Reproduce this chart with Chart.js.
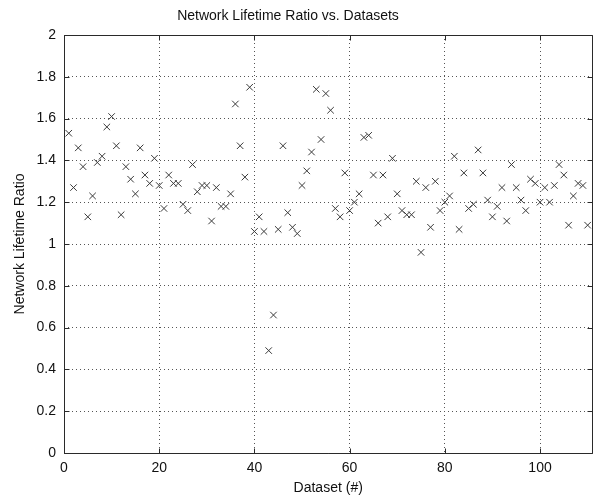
<!DOCTYPE html>
<html>
<head>
<meta charset="utf-8">
<script src="https://cdn.jsdelivr.net/npm/chart.js@4/dist/chart.umd.min.js"></script>
<style>
  html, body { margin: 0; padding: 0; background: #fff; overflow: hidden; }
  #wrap { width: 598px; height: 499px; }
</style>
</head>
<body>
<div id="wrap"><canvas id="c" width="598" height="499"></canvas></div>
<script>
// ---- Data ----
const titleText = "Network Lifetime Ratio vs. Datasets";
const xTitle = "Dataset (#)";
const yTitle = "Network Lifetime Ratio";

const datasetIds = [
  1, 2, 3, 4, 5, 6, 7, 8, 9, 10,
  11, 12, 13, 14, 15, 16, 17, 18, 19, 20,
  21, 22, 23, 24, 25, 26, 27, 28, 29, 30,
  31, 32, 33, 34, 35, 36, 37, 38, 39, 40,
  41, 42, 43, 44, 45, 46, 47, 48, 49, 50,
  51, 52, 53, 54, 55, 56, 57, 58, 59, 60,
  61, 62, 63, 64, 65, 66, 67, 68, 69, 70,
  71, 72, 73, 74, 75, 76, 77, 78, 79, 80,
  81, 82, 83, 84, 85, 86, 87, 88, 89, 90,
  91, 92, 93, 94, 95, 96, 97, 98, 99, 100,
  101, 102, 103, 104, 105, 106, 107, 108, 109, 110
];

const lifetimeRatio = [
  1.53, 1.27, 1.46, 1.37, 1.13, 1.23, 1.39, 1.42, 1.56, 1.61,
  1.47, 1.14, 1.37, 1.31, 1.24, 1.46, 1.33, 1.29, 1.41, 1.28,
  1.17, 1.33, 1.29, 1.29, 1.19, 1.16, 1.38, 1.25, 1.28, 1.28,
  1.11, 1.27, 1.18, 1.18, 1.24, 1.67, 1.47, 1.32, 1.75, 1.06,
  1.13, 1.06, 0.49, 0.66, 1.07, 1.47, 1.15, 1.08, 1.05, 1.28,
  1.35, 1.44, 1.74, 1.50, 1.72, 1.64, 1.17, 1.13, 1.34, 1.16,
  1.20, 1.24, 1.51, 1.52, 1.33, 1.10, 1.33, 1.13, 1.41, 1.24,
  1.16, 1.14, 1.14, 1.30, 0.96, 1.27, 1.08, 1.30, 1.16, 1.20,
  1.23, 1.42, 1.07, 1.34, 1.17, 1.19, 1.45, 1.34, 1.21, 1.13,
  1.18, 1.27, 1.11, 1.38, 1.27, 1.21, 1.16, 1.31, 1.29, 1.20,
  1.27, 1.20, 1.28, 1.38, 1.33, 1.09, 1.23, 1.29, 1.28, 1.09
];

const xTickValues = [0, 20, 40, 60, 80, 100];
const yTickValues = [0, 0.2, 0.4, 0.6, 0.8, 1, 1.2, 1.4, 1.6, 1.8, 2];
const xRange = [0, 111];
const yRange = [0, 2];

// ---- Chart ----
const FONT = "'Liberation Sans', Arial, sans-serif";
const FSIZE = 14;
const points = datasetIds.map((x, i) => ({ x: x, y: lifetimeRatio[i] }));

const framePlugin = {
  id: 'matlabFrame',
  afterDraw(chart) {
    const ctx = chart.ctx;
    const ca = chart.chartArea;
    const xs = chart.scales.x, ys = chart.scales.y;
    ctx.save();
    ctx.strokeStyle = '#2a2a2a';
    ctx.lineWidth = 1;
    ctx.setLineDash([]);
    const L = Math.round(ca.left) + 0.5, R = Math.round(ca.right) + 0.5;
    const T = Math.round(ca.top) + 0.5, B = Math.round(ca.bottom) + 0.5;
    ctx.beginPath();
    ctx.moveTo(L, T); ctx.lineTo(R, T); ctx.lineTo(R, B); ctx.lineTo(L, B); ctx.closePath();
    ctx.stroke();
    // inward tick marks
    const tl = 5;
    ctx.beginPath();
    xTickValues.forEach(v => {
      const p = Math.round(xs.getPixelForValue(v)) + 0.5;
      ctx.moveTo(p, B); ctx.lineTo(p, B - tl);
      ctx.moveTo(p, T); ctx.lineTo(p, T + tl);
    });
    yTickValues.forEach(v => {
      const p = Math.round(ys.getPixelForValue(v)) + 0.5;
      ctx.moveTo(L, p); ctx.lineTo(L + tl, p);
      ctx.moveTo(R, p); ctx.lineTo(R - tl, p);
    });
    ctx.stroke();
    // title
    ctx.fillStyle = '#111';
    ctx.font = FSIZE + "px " + FONT;
    ctx.textAlign = 'center';
    ctx.textBaseline = 'middle';
    ctx.fillText(titleText, 288, 16);
    ctx.restore();
  }
};

new Chart(document.getElementById('c'), {
  type: 'scatter',
  data: {
    datasets: [{
      data: points,
      pointStyle: 'crossRot',
      pointRadius: 4.6,
      pointHoverRadius: 4.6,
      borderColor: '#3a3a3a',
      backgroundColor: '#3a3a3a',
      pointBorderWidth: 1,
      showLine: false
    }]
  },
  options: {
    responsive: false,
    devicePixelRatio: 1,
    animation: false,
    events: [],
    layout: { padding: { top: 35, right: 1, left: 0, bottom: 0 } },
    plugins: {
      legend: { display: false },
      title: { display: false },
      tooltip: { enabled: false }
    },
    scales: {
      x: {
        type: 'linear',
        min: xRange[0],
        max: xRange[1],
        afterBuildTicks(scale) { scale.ticks = xTickValues.map(v => ({ value: v })); },
        afterFit(scale) { scale.height = 46; },
        ticks: {
          color: '#111',
          font: { family: FONT, size: FSIZE },
          padding: 7,
          maxRotation: 0,
          autoSkip: false
        },
        grid: { color: '#555', lineWidth: 1, drawTicks: false },
        border: { display: false, dash: [1, 3] },
        title: {
          display: true,
          text: xTitle,
          color: '#111',
          font: { family: FONT, size: FSIZE },
          padding: { top: 0, bottom: 2 }
        }
      },
      y: {
        type: 'linear',
        min: yRange[0],
        max: yRange[1],
        afterBuildTicks(scale) { scale.ticks = yTickValues.map(v => ({ value: v })); },
        afterFit(scale) { scale.width = 64; },
        ticks: {
          color: '#111',
          font: { family: FONT, size: FSIZE },
          padding: 8,
          autoSkip: false,
          callback: (v) => String(Math.round(v * 10) / 10)
        },
        grid: { color: '#555', lineWidth: 1, drawTicks: false },
        border: { display: false, dash: [1, 3] },
        title: {
          display: true,
          text: yTitle,
          color: '#111',
          font: { family: FONT, size: FSIZE },
          padding: { top: 12, bottom: 0 }
        }
      }
    }
  },
  plugins: [framePlugin]
});
</script>
</body>
</html>
